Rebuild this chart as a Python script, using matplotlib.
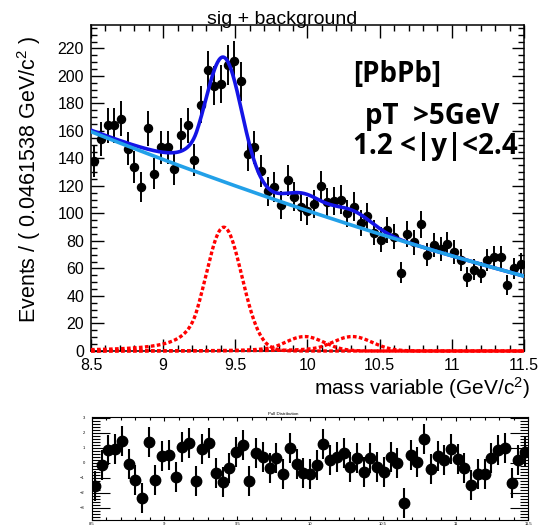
import numpy as np
import matplotlib.pyplot as plt
from matplotlib.ticker import MultipleLocator, FormatStrFormatter

plt.rcParams['font.family'] = ['Liberation Sans', 'DejaVu Sans']
plt.rcParams['mathtext.fontset'] = 'custom'
plt.rcParams['mathtext.rm'] = 'Liberation Sans'
plt.rcParams['mathtext.it'] = 'Liberation Sans:italic'

# binned dimuon mass spectrum, 65 bins between 8.5 and 11.5 GeV
mass_lo, mass_hi, n_bins = 8.5, 11.5, 65
counts = np.array([138, 154, 164, 164, 169, 147, 134, 119, 162, 129,
                   148, 148, 132, 157, 164, 139, 179, 204, 193, 194,
                   208, 211, 196, 143, 148, 131, 116, 119, 106, 124,
                   112, 105, 102, 107, 120, 108, 109, 110, 100, 105,
                   93, 98, 86, 81, 88, 83, 57, 85, 79, 92,
                   70, 77, 74, 78, 72, 66, 54, 59, 57, 66,
                   68, 68, 48, 60, 63])

pulls = np.array([-1.56, -0.16, 0.84, 0.91, 1.44, -0.09, -1.16, -2.38, 1.40, -1.16,
                  0.44, 0.51, -0.93, 1.07, 1.33, -1.22, 0.89, 1.29, -0.71, -1.27,
                  -0.38, 0.73, 1.18, -1.20, 0.62, 0.40, -0.33, 0.29, -0.76, 1.00,
                  -0.09, -0.67, -0.76, -0.16, 1.22, 0.18, 0.40, 0.62, -0.27, 0.33,
                  -0.60, 0.29, -0.27, -0.60, 0.40, 0.00, -2.71, 0.51, 0.07, 1.56,
                  -0.44, 0.44, 0.18, 0.89, 0.22, -0.33, -1.49, -0.76, -0.76, 0.29,
                  0.84, 1.00, -1.33, 0.18, 0.73])

# fit result: Upsilon(1S,2S,3S) crystal balls + 2nd order polynomial background
peak_mass = [9.42, 9.98, 10.31]
peak_sigma = [0.125, 0.1325, 0.137]
peak_height = [90.0, 10.5, 10.5]
cb_alpha, cb_n = 1.5, 2.0
bkg_coef = [102.0, -35.0, 2.2]   # around m = 10 GeV


def crystal_ball(x, mean, sigma, alpha, n):
    t = (x - mean) / sigma
    a = (n / alpha) ** n * np.exp(-alpha ** 2 / 2)
    b = n / alpha - alpha
    out = np.exp(-t ** 2 / 2)
    tail = t < -alpha
    out[tail] = a * (b - t[tail]) ** (-n)
    return out


bin_width = (mass_hi - mass_lo) / n_bins
mass = mass_lo + bin_width * (np.arange(n_bins) + 0.5)

x = np.linspace(mass_lo, mass_hi, 600)
bkg = bkg_coef[0] + bkg_coef[1] * (x - 10) + bkg_coef[2] * (x - 10) ** 2
signals = [h * crystal_ball(x, m, s, cb_alpha, cb_n)
           for m, s, h in zip(peak_mass, peak_sigma, peak_height)]
total = bkg + sum(signals)

W, H = 539, 526
fig = plt.figure(figsize=(W / 100, H / 100), dpi=100)

ax = fig.add_axes([91 / W, 1 - 351 / H, (524 - 91) / W, (351 - 25) / H])
ax.errorbar(mass, counts, yerr=np.sqrt(counts), fmt='o', color='black',
            ms=5.8, elinewidth=1.4, capsize=0, zorder=2)
ax.plot(x, total, color='#1414E6', lw=2.6, zorder=3)
ax.plot(x, bkg, color='#22A0E8', lw=2.6, zorder=4)
for sig in signals:
    ax.plot(x, sig, color='red', lw=2.4, ls=(0, (1.1, 0.7)), zorder=5, clip_on=False)

ax.set_xlim(mass_lo, mass_hi)
ax.set_ylim(0, 237)
ax.xaxis.set_major_locator(MultipleLocator(0.5))
ax.xaxis.set_minor_locator(MultipleLocator(0.1))
ax.xaxis.set_major_formatter(FormatStrFormatter('%g'))
ax.yaxis.set_major_locator(MultipleLocator(20))
ax.yaxis.set_minor_locator(MultipleLocator(5))
ax.tick_params(which='both', direction='in', top=True, right=True,
               labelsize=11.5, pad=5, width=1)
ax.tick_params(which='major', length=9)
ax.tick_params(which='minor', length=4.5)
for s in ax.spines.values():
    s.set_linewidth(1.1)

fig.text(282.5 / W, 1 - 23.5 / H, 'sig + background', fontsize=14,
         ha='center', va='baseline')
fig.text(29 / W, 1 - 179 / H, 'Events / ( 0.0461538 GeV/c$^{2}$ )',
         fontsize=15.5, rotation=90, ha='center', va='center')
fig.text(530 / W, 1 - 395 / H, 'mass variable (GeV/c$^{2}$)', fontsize=15,
         ha='right', va='baseline')

label_font = dict(family=['Open Sans', 'DejaVu Sans'], weight='bold', fontsize=20)
fig.text(353 / W, 1 - 81.7 / H, '[PbPb]', ha='left', va='baseline', **label_font)
fig.text(365 / W, 1 - 124 / H, 'pT  >5GeV', ha='left', va='baseline', **label_font)
fig.text(353 / W, 1 - 154 / H, '1.2 <|y|<2.4', ha='left', va='baseline', **label_font)

# pull panel
pax = fig.add_axes([91.6 / W, 1 - 520 / H, (528.3 - 91.6) / W, (520 - 417.3) / H])
pax.errorbar(mass, pulls, yerr=1.0, fmt='o', color='black',
             ms=7.5, elinewidth=1.5, capsize=0)
pax.set_xlim(mass_lo, mass_hi)
pax.set_ylim(-3.82, 3.03)
pax.xaxis.set_major_locator(MultipleLocator(0.5))
pax.xaxis.set_minor_locator(MultipleLocator(0.1))
pax.xaxis.set_major_formatter(FormatStrFormatter('%g'))
pax.yaxis.set_major_locator(MultipleLocator(1))
pax.yaxis.set_minor_locator(MultipleLocator(0.2))
pax.tick_params(which='both', direction='in', top=True, right=True,
                labelsize=3, width=0.8)
pax.tick_params(axis='y', which='major', length=13, pad=5)
pax.tick_params(axis='y', which='minor', length=6)
pax.tick_params(axis='x', which='major', length=3, pad=1.5)
pax.tick_params(axis='x', which='minor', length=2)
fig.text(283 / W, 1 - 415 / H, 'Pull Distribution', fontsize=3.2,
         ha='center', va='baseline')

fig.savefig('out.png', dpi=100)
